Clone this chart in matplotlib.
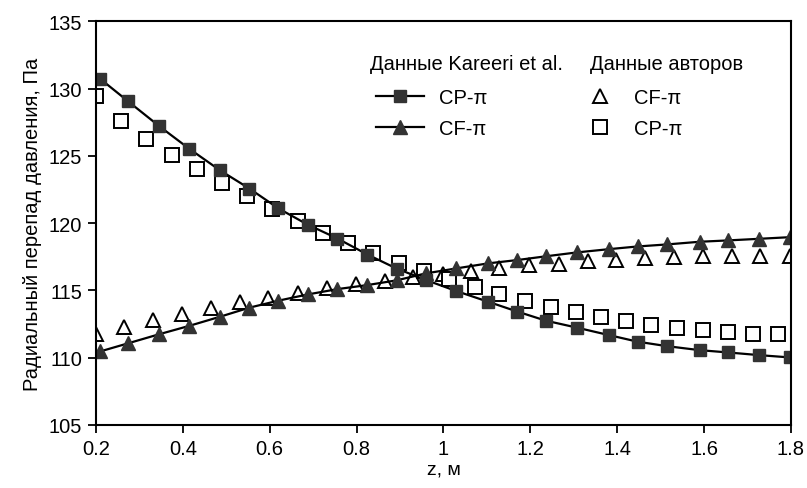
#!/usr/bin/env python3

"""
Radial pressure drop along z: Kareeri et al. vs authors' data.
"""

import matplotlib
matplotlib.use('Agg')
import matplotlib.pyplot as plt
from matplotlib.lines import Line2D

# Kareeri et al. (line + filled markers)
z_kareeri = [0.209, 0.274, 0.345, 0.414, 0.486, 0.553, 0.620, 0.687, 0.756, 0.825,
             0.892, 0.960, 1.030, 1.102, 1.170, 1.236, 1.308, 1.381, 1.447, 1.514,
             1.590, 1.655, 1.727, 1.797]
cp_kareeri = [130.75, 129.06, 127.23, 125.55, 123.92, 122.58, 121.10, 119.90, 118.86, 117.67,
              116.63, 115.77, 114.95, 114.17, 113.43, 112.75, 112.23, 111.68, 111.19, 110.86,
              110.56, 110.39, 110.19, 110.02]
cf_kareeri = [110.46, 111.07, 111.74, 112.36, 113.05, 113.72, 114.24, 114.70, 115.10, 115.40,
              115.75, 116.27, 116.64, 117.01, 117.26, 117.54, 117.83, 118.07, 118.27, 118.42,
              118.62, 118.72, 118.84, 118.96]

# authors' data (open markers)
z_cf_auth = [0.199, 0.265, 0.332, 0.397, 0.465, 0.531, 0.597, 0.665, 0.733, 0.799,
             0.866, 0.931, 0.998, 1.063, 1.128, 1.197, 1.265, 1.332, 1.398, 1.465,
             1.532, 1.598, 1.664, 1.730, 1.797]
cf_auth = [111.74, 112.31, 112.80, 113.22, 113.67, 114.12, 114.47, 114.80, 115.16, 115.45,
           115.73, 116.02, 116.20, 116.44, 116.69, 116.89, 116.99, 117.17, 117.29, 117.42,
           117.50, 117.55, 117.57, 117.57, 117.57]

z_cp_auth = [0.199, 0.258, 0.315, 0.374, 0.432, 0.490, 0.548, 0.606, 0.665, 0.723,
             0.780, 0.838, 0.897, 0.955, 1.013, 1.072, 1.128, 1.187, 1.247, 1.305,
             1.363, 1.421, 1.479, 1.538, 1.597, 1.656, 1.712, 1.770]
cp_auth = [129.46, 127.60, 126.29, 125.10, 124.04, 123.00, 122.00, 121.04, 120.15, 119.29,
           118.50, 117.75, 117.06, 116.44, 115.85, 115.23, 114.71, 114.24, 113.78, 113.36,
           113.04, 112.71, 112.46, 112.24, 112.04, 111.92, 111.79, 111.74]

x_ticks = [0.2, 0.4, 0.6, 0.8, 1.0, 1.2, 1.4, 1.6, 1.8]
x_tick_labels = ['0.2', '0.4', '0.6', '0.8', '1', '1.2', '1.4', '1.6', '1.8']
y_ticks = [105, 110, 115, 120, 125, 130, 135]

FILL = '#333333'
FS = 14.5


def filled(marker, size):
    return dict(color='black', linewidth=1.6, marker=marker, markersize=size,
                markerfacecolor=FILL, markeredgecolor=FILL)


def hollow(marker, size):
    return dict(linestyle='none', marker=marker, markersize=size,
                markerfacecolor='white', markeredgecolor='black', markeredgewidth=1.4)


def main():
    plt.rcParams['font.family'] = ['Liberation Sans', 'DejaVu Sans']

    fig = plt.figure(figsize=(8.07, 4.89), dpi=100)
    ax = fig.add_axes([0.119, 0.129, 0.861, 0.825])

    # open markers first so filled ones sit on top
    ax.plot(z_cf_auth, cf_auth, **hollow('^', 10))
    ax.plot(z_cp_auth, cp_auth, **hollow('s', 9.5))

    ax.plot(z_kareeri, cp_kareeri, **filled('s', 8.5))
    ax.plot(z_kareeri, cf_kareeri, **filled('^', 9.5))

    ax.set_xlim(0.2, 1.8)
    ax.set_ylim(105, 135)
    ax.set_xticks(x_ticks)
    ax.set_xticklabels(x_tick_labels)
    ax.set_yticks(y_ticks)
    ax.tick_params(direction='out', length=6, width=1.3, labelsize=FS,
                   colors='black', top=False, right=False, pad=4)
    for s in ax.spines.values():
        s.set_linewidth(1.5)

    ax.set_xlabel('z, м', fontsize=14, labelpad=2)
    ax.set_ylabel('Радиальный перепад давления, Па', fontsize=14.5, labelpad=5)

    # legend: two columns, each with its own header
    left = ax.legend([Line2D([], [], **filled('s', 8.5)), Line2D([], [], **filled('^', 9.5))],
                     ['CP-π', 'CF-π'], frameon=False, fontsize=FS,
                     loc='upper left', bbox_to_anchor=(0.403, 0.835),
                     handlelength=2.4, handletextpad=0.75, labelspacing=0.6,
                     borderpad=0, borderaxespad=0)
    ax.add_artist(left)
    ax.legend([Line2D([], [], **hollow('^', 10)), Line2D([], [], **hollow('s', 9.5))],
              ['CF-π', 'CP-π'], frameon=False, fontsize=FS,
              loc='upper left', bbox_to_anchor=(0.690, 0.835),
              handlelength=2.4, handletextpad=0.5, labelspacing=0.6,
              borderpad=0, borderaxespad=0)

    ax.text(0.394, 0.896, 'Данные Kareeri et al.', transform=ax.transAxes,
            fontsize=FS, va='center', ha='left')
    ax.text(0.711, 0.896, 'Данные авторов', transform=ax.transAxes,
            fontsize=FS, va='center', ha='left')

    fig.savefig('out.png', dpi=100)


if __name__ == '__main__':
    main()
